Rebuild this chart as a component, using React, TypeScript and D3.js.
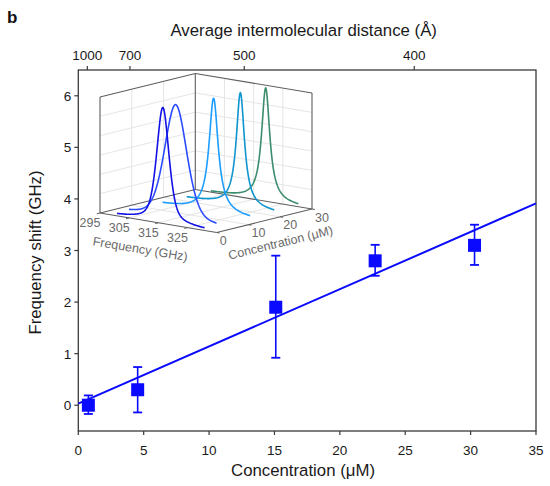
import * as d3 from 'd3'

// ── main data: Brillouin frequency shift vs concentration ────────────────────
const conc   = [0.77, 4.54, 15.1, 22.7, 30.3]
const shift  = [0.0, 0.3, 1.9, 2.8, 3.1]
const errLo  = [-0.17, -0.14, 0.92, 2.51, 2.72]
const errHi  = [0.19, 0.74, 2.9, 3.11, 3.5]
const fitSlope     = 0.111
const fitIntercept = 0.03

const xTicks = [0, 5, 10, 15, 20, 25, 30, 35]
const yTicks = [0, 1, 2, 3, 4, 5, 6]
// top axis: average distance labels and where they sit on the concentration axis
const distLabels = [1000, 700, 500, 400]
const distAt     = [0.69, 3.95, 12.69, 25.69]

// ── inset: spectra (fitted line shapes) ──────────────────────────────────────
const specConc    = [0.77, 4.54, 15.1, 22.7, 30.3]
const specPeak    = [315.7, 316.0, 317.5, 318.4, 318.8]
const specWidth   = [5.0, 9.0, 3.8, 3.4, 3.4]     // FWHM, GHz
const specLorFrac = [0.5, 0.3, 1, 1, 1]           // pseudo-Voigt mixing
const specHeight  = [1.19, 1.19, 1.18, 1.18, 1.17]
const specColor   = ['#1212e6', '#2a4bff', '#1c9dff', '#0f95cf', '#3b8d6d']
const freqTicks   = [295, 305, 315, 325]
const concTicks   = [0, 10, 20, 30]
const zGrid       = [0.2, 0.4, 0.6, 0.8, 1.0]

// ── layout ───────────────────────────────────────────────────────────────────
const W = 550, H = 486
const P = { left: 78.3, right: 536, top: 70, bottom: 431 }
const BLUE  = '#0a0aff'
const FRAME = '#3a3a3a'
const FONT  = '"Liberation Sans", Arial, Helvetica, sans-serif'

// inset box in page pixels
const IN = { ox: 100, oy: 213, fx: 116.7, fy: 19.5, cx: 95.3, cy: -23.5, zh: 116 }
const IGRAY = '#6a6a6a'

const x = d3.scaleLinear().domain([0, 35]).range([P.left, P.right])
const y = d3.scaleLinear().domain([-0.5, 6.5]).range([P.bottom, P.top])

const fS = d3.scaleLinear().domain([295, 335]).range([0, 1])
const cS = d3.scaleLinear().domain([0, 30]).range([0, 1])
const zS = d3.scaleLinear().domain([0, 1.2]).range([0, 1])

function proj(f: number, c: number, z: number): [number, number] {
  const a = fS(f), b = cS(c), h = zS(z)
  return [IN.ox + IN.fx * a + IN.cx * b, IN.oy + IN.fy * a + IN.cy * b - IN.zh * h]
}

function seg(p: [number, number, number], q: [number, number, number]) {
  const [x1, y1] = proj(...p)
  const [x2, y2] = proj(...q)
  return { x1, y1, x2, y2 }
}

// pseudo-Voigt line shape for each spectrum
function shape(i: number, f: number) {
  const hw = specWidth[i] / 2
  const d = f - specPeak[i]
  const lor = (hw * hw) / (d * d + hw * hw)
  const gau = Math.exp(-Math.LN2 * (d / hw) ** 2)
  const e = specLorFrac[i]
  return specHeight[i] * (e * lor + (1 - e) * gau)
}

const sampleF = d3.range(300, 330.001, 0.2)
const specLine = d3.line<[number, number]>().x(d => d[0]).y(d => d[1])

function Inset() {
  const gridLines: { x1: number; y1: number; x2: number; y2: number }[] = []
  // left wall (f = 295)
  zGrid.forEach(z => gridLines.push(seg([295, 0, z], [295, 30, z])))
  ;[10, 20].forEach(c => gridLines.push(seg([295, c, 0], [295, c, 1.2])))
  // right wall (c = 30)
  zGrid.forEach(z => gridLines.push(seg([295, 30, z], [335, 30, z])))
  ;[305, 315, 325].forEach(f => gridLines.push(seg([f, 30, 0], [f, 30, 1.2])))
  // floor
  ;[305, 315, 325].forEach(f => gridLines.push(seg([f, 0, 0], [f, 30, 0])))
  ;[10, 20].forEach(c => gridLines.push(seg([295, c, 0], [335, c, 0])))

  const edges = [
    seg([295, 0, 0], [295, 0, 1.2]),
    seg([295, 30, 0], [295, 30, 1.2]),
    seg([335, 30, 0], [335, 30, 1.2]),
    seg([295, 0, 1.2], [295, 30, 1.2]),
    seg([295, 30, 1.2], [335, 30, 1.2]),
    seg([295, 0, 0], [295, 30, 0]),
    seg([295, 30, 0], [335, 30, 0]),
    seg([295, 0, 0], [335, 0, 0]),
    seg([335, 0, 0], [335, 30, 0]),
  ]

  const fAng = (Math.atan2(IN.fy, IN.fx) * 180) / Math.PI
  const cAng = (Math.atan2(IN.cy, IN.cx) * 180) / Math.PI
  const [flx, fly] = proj(316, 0, 0)
  const [clx, cly] = proj(335, 16, 0)

  return (
    <g>
      {gridLines.map((l, i) => (
        <line key={'g' + i} {...l} stroke="#e2e2e2" strokeWidth={0.9} />
      ))}
      {edges.map((l, i) => (
        <line key={'e' + i} {...l} stroke="#5e5e5e" strokeWidth={1.1} />
      ))}

      {/* spectra, back to front */}
      {specConc.map((c, i) => i).reverse().map(i => (
        <path
          key={'s' + i}
          d={specLine(sampleF.map(f => proj(f, specConc[i], shape(i, f)))) ?? ''}
          fill="none"
          stroke={specColor[i]}
          strokeWidth={1.6}
          strokeLinejoin="round"
        />
      ))}

      {/* frequency axis ticks + labels */}
      {freqTicks.map(f => {
        const [tx, ty] = proj(f, 0, 0)
        const [ux, uy] = proj(f, -1, 0)
        return (
          <g key={'ft' + f}>
            <line x1={tx} y1={ty} x2={ux} y2={uy} stroke="#5e5e5e" strokeWidth={1} />
            <text x={tx - 10} y={ty + 10} textAnchor="middle" dominantBaseline="central"
              fontSize={12.5} fill={IGRAY} fontFamily={FONT}>{f}</text>
          </g>
        )
      })}
      {concTicks.map(c => {
        const [tx, ty] = proj(335, c, 0)
        const [ux, uy] = proj(336, c, 0)
        return (
          <g key={'ct' + c}>
            <line x1={tx} y1={ty} x2={ux} y2={uy} stroke="#5e5e5e" strokeWidth={1} />
            <text x={tx + 3} y={ty + 8.5} textAnchor="start" dominantBaseline="central"
              fontSize={12.5} fill={IGRAY} fontFamily={FONT}>{c}</text>
          </g>
        )
      })}

      <text transform={`translate(${flx - 21},${fly + 26}) rotate(${fAng})`}
        textAnchor="middle" dominantBaseline="central" fontSize={12.5} fill={IGRAY} fontFamily={FONT}>
        Frequency (GHz)
      </text>
      <text transform={`translate(${clx + 13},${cly + 23}) rotate(${cAng})`}
        textAnchor="middle" dominantBaseline="central" fontSize={12.5} fill={IGRAY} fontFamily={FONT}>
        Concentration (μM)
      </text>
    </g>
  )
}

export default function App() {
  const fit = d3.line<number>().x(c => x(c)).y(c => y(fitIntercept + fitSlope * c))
  const sq = 13
  const cap = 4.5

  return (
    <svg width={W} height={H} viewBox={`0 0 ${W} ${H}`}
      style={{ position: 'fixed', left: 0, top: 0, background: '#fff' }} fontFamily={FONT}>
      <rect width={W} height={H} fill="#fff" />

      <text x={7} y={23} fontSize={17} fontWeight="bold" fill="#111">b</text>

      {/* frame */}
      <rect x={P.left} y={P.top} width={P.right - P.left} height={P.bottom - P.top}
        fill="none" stroke={FRAME} strokeWidth={1.3} />

      {/* bottom axis */}
      {xTicks.map(t => (
        <g key={'x' + t}>
          <line x1={x(t)} x2={x(t)} y1={P.bottom} y2={P.bottom + 4} stroke={FRAME} strokeWidth={1.2} />
          <text x={x(t)} y={455} textAnchor="middle" fontSize={13.5} fill="#1a1a1a">{t}</text>
        </g>
      ))}
      <text x={303} y={476} textAnchor="middle" fontSize={16.8} fill="#1a1a1a">Concentration (μM)</text>

      {/* left axis */}
      {yTicks.map(t => (
        <g key={'y' + t}>
          <line x1={P.left - 4} x2={P.left} y1={y(t)} y2={y(t)} stroke={FRAME} strokeWidth={1.2} />
          <text x={P.left - 7} y={y(t) + 5} textAnchor="end" fontSize={13.5} fill="#1a1a1a">{t}</text>
        </g>
      ))}
      <text transform={`translate(41,${(P.top + P.bottom) / 2 + 2}) rotate(-90)`} textAnchor="middle"
        fontSize={16.8} fill="#1a1a1a">Frequency shift (GHz)</text>

      {/* top axis: average intermolecular distance */}
      {distLabels.map((d, i) => (
        <g key={'d' + d}>
          <line x1={x(distAt[i])} x2={x(distAt[i])} y1={P.top - 4} y2={P.top} stroke={FRAME} strokeWidth={1.2} />
          <text x={x(distAt[i])} y={59.5} textAnchor="middle" fontSize={13.5} fill="#1a1a1a">{d}</text>
        </g>
      ))}
      <text x={303.7} y={36} textAnchor="middle" fontSize={16.8} fill="#1a1a1a">
        Average intermolecular distance (Å)
      </text>

      <Inset />

      {/* linear fit */}
      <path d={fit([0, 35]) ?? ''} fill="none" stroke={BLUE} strokeWidth={2} />

      {/* data with error bars */}
      {conc.map((c, i) => (
        <g key={'p' + i}>
          <line x1={x(c)} x2={x(c)} y1={y(errLo[i])} y2={y(errHi[i])} stroke={BLUE} strokeWidth={1.6} />
          <line x1={x(c) - cap} x2={x(c) + cap} y1={y(errLo[i])} y2={y(errLo[i])} stroke={BLUE} strokeWidth={1.8} />
          <line x1={x(c) - cap} x2={x(c) + cap} y1={y(errHi[i])} y2={y(errHi[i])} stroke={BLUE} strokeWidth={1.8} />
          <rect x={x(c) - sq / 2} y={y(shift[i]) - sq / 2} width={sq} height={sq} fill={BLUE} />
        </g>
      ))}
    </svg>
  )
}
